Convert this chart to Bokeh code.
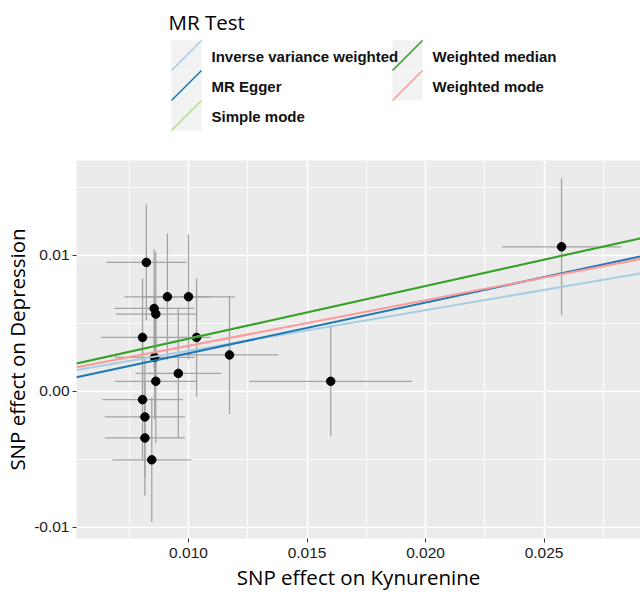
from bokeh.plotting import figure
from bokeh.models import Range1d, FixedTicker, ColumnDataSource
from bokeh.layouts import column
from bokeh.embed import file_html
from bokeh.resources import INLINE
from bokeh.core.properties import value

# ---- data: SNP effects (exposure = Kynurenine, outcome = Depression) ----
beta_exp = [0.00822, 0.00911, 0.01000, 0.00855, 0.00862, 0.00806, 0.01034, 0.00857,
            0.01173, 0.00957, 0.00862, 0.00806, 0.00816, 0.00816, 0.00845, 0.01600, 0.02574]
se_exp = [0.00169, 0.00181, 0.00195, 0.00169, 0.00169, 0.00174, 0.00060, 0.00169,
          0.00205, 0.00181, 0.00171, 0.00169, 0.00169, 0.00169, 0.00167, 0.00343, 0.00251]
beta_out = [0.00949, 0.00696, 0.00696, 0.00610, 0.00569, 0.00397, 0.00397, 0.00250,
            0.00268, 0.00132, 0.00074, -0.00061, -0.00188, -0.00343, -0.00504, 0.00074, 0.01064]
se_out = [0.00426, 0.00465, 0.00461, 0.00436, 0.00456, 0.00436, 0.00436, 0.00456,
          0.00434, 0.00478, 0.00456, 0.00440, 0.00440, 0.00424, 0.00459, 0.00404, 0.00505]

methods = ["Inverse variance weighted", "MR Egger", "Simple mode", "Weighted median", "Weighted mode"]
colors = ["#a6cee3", "#1f78b4", "#b2df8a", "#33a02c", "#fb9a99"]
slopes = [0.2985, 0.3738, 0.3880, 0.3875, 0.3350]
intercepts = [0.0, -0.00094, 0.0, 0.0, 0.0]
draw_order = [2, 0, 1, 3, 4]

x_ticks = [0.010, 0.015, 0.020, 0.025]
x_tick_labels = ["0.010", "0.015", "0.020", "0.025"]
x_minor = [0.0075, 0.0125, 0.0175, 0.0225, 0.0275]
y_ticks = [-0.01, 0.0, 0.01]
y_tick_labels = ["-0.01", "0.00", "0.01"]
y_minor = [-0.005, 0.005, 0.015]

x_lo, x_hi = 0.005274, 0.02907
y_lo, y_hi = -0.01083, 0.01699

TICK_FONT = "Liberation Sans"
TITLE_FONT = "Open Sans"
LEFT = 76

# ---- legend panel (above the plot) ----
leg = figure(width=640, height=160, x_range=Range1d(LEFT, 640), y_range=Range1d(160, 0),
             output_backend="svg", toolbar_location=None,
             min_border_left=LEFT, min_border_right=0, min_border_top=0, min_border_bottom=0)
leg.axis.visible = False
leg.grid.visible = False
leg.outline_line_color = None
leg.background_fill_color = "white"
leg.border_fill_color = "white"

leg.text(x=[168], y=[21], text=["MR Test"], text_font=value(TITLE_FONT),
         text_font_size="20.5px", text_baseline="middle", text_align="left", text_color="black")

col_x = [171, 392]
row_y0 = 40
key_w, key_h = 30, 30
kx0, ky0, kx1, ky1, kcol, lx, ly, lt = [], [], [], [], [], [], [], []
for i, (m, c) in enumerate(zip(methods, colors)):
    col, row = divmod(i, 3)
    x0 = col_x[col]
    y0 = row_y0 + row * key_h
    kx0.append(x0); ky0.append(y0); kx1.append(x0 + key_w); ky1.append(y0 + key_h)
    kcol.append(c)
    lx.append(x0 + key_w + 10); ly.append(y0 + key_h / 2 + 1); lt.append(m)
leg.quad(left=kx0, right=kx1, top=ky0, bottom=ky1, fill_color="#f2f2f2", line_color=None)
leg.segment(x0=kx0, y0=ky1, x1=kx1, y1=ky0, line_color=kcol, line_width=1.6)
leg.text(x=lx, y=ly, text=lt, text_font=value(TICK_FONT), text_font_size="15px",
         text_font_style="bold", text_baseline="middle", text_align="left", text_color="#111111")

# ---- main scatter plot ----
p = figure(width=640, height=434, x_range=Range1d(x_lo, x_hi), y_range=Range1d(y_lo, y_hi),
           output_backend="svg", toolbar_location=None,
           min_border_left=LEFT, min_border_right=0, min_border_top=0, min_border_bottom=56)
p.background_fill_color = "#ebebeb"
p.border_fill_color = "white"
p.outline_line_color = None

p.xaxis.ticker = FixedTicker(ticks=x_ticks, minor_ticks=x_minor)
p.yaxis.ticker = FixedTicker(ticks=y_ticks, minor_ticks=y_minor)
p.xaxis.major_label_overrides = {t: l for t, l in zip(x_ticks, x_tick_labels)}
p.yaxis.major_label_overrides = {t: l for t, l in zip(y_ticks, y_tick_labels)}

for g in (p.xgrid, p.ygrid):
    g.grid_line_color = "white"
    g.grid_line_width = 1.6
    g.minor_grid_line_color = "white"
    g.minor_grid_line_width = 0.8

for ax in (p.xaxis, p.yaxis):
    ax.axis_line_color = None
    ax.minor_tick_line_color = None
    ax.major_tick_line_color = "#333333"
    ax.major_tick_in = 0
    ax.major_tick_out = 4
    ax.major_label_text_font = TICK_FONT
    ax.major_label_text_font_size = "15.5px"
    ax.major_label_text_color = "#1a1a1a"
    ax.axis_label_text_font = TITLE_FONT
    ax.axis_label_text_font_size = "20.5px"
    ax.axis_label_text_font_style = "normal"
    ax.axis_label_text_color = "black"

p.xaxis.axis_label = "SNP effect on Kynurenine"
p.yaxis.axis_label = "SNP effect on Depression"
p.xaxis.major_label_standoff = 5
p.yaxis.major_label_standoff = 3
p.xaxis.axis_label_standoff = 2
p.yaxis.axis_label_standoff = 0

src = ColumnDataSource(dict(
    bx=beta_exp, by=beta_out,
    xl=[b - s for b, s in zip(beta_exp, se_exp)], xr=[b + s for b, s in zip(beta_exp, se_exp)],
    yl=[b - s for b, s in zip(beta_out, se_out)], yh=[b + s for b, s in zip(beta_out, se_out)],
))
p.segment(x0="bx", y0="yl", x1="bx", y1="yh", source=src, line_color="#a3a3a3", line_width=1.3)
p.segment(x0="xl", y0="by", x1="xr", y1="by", source=src, line_color="#a3a3a3", line_width=1.3)
p.scatter(x="bx", y="by", source=src, size=8.5, fill_color="black", line_color="black")

for i in draw_order:
    xs = [x_lo, x_hi]
    ys = [intercepts[i] + slopes[i] * x for x in xs]
    p.line(xs, ys, line_color=colors[i], line_width=2)

layout = column(leg, p, spacing=0)
open("out.html", "w").write(file_html(layout, INLINE))
